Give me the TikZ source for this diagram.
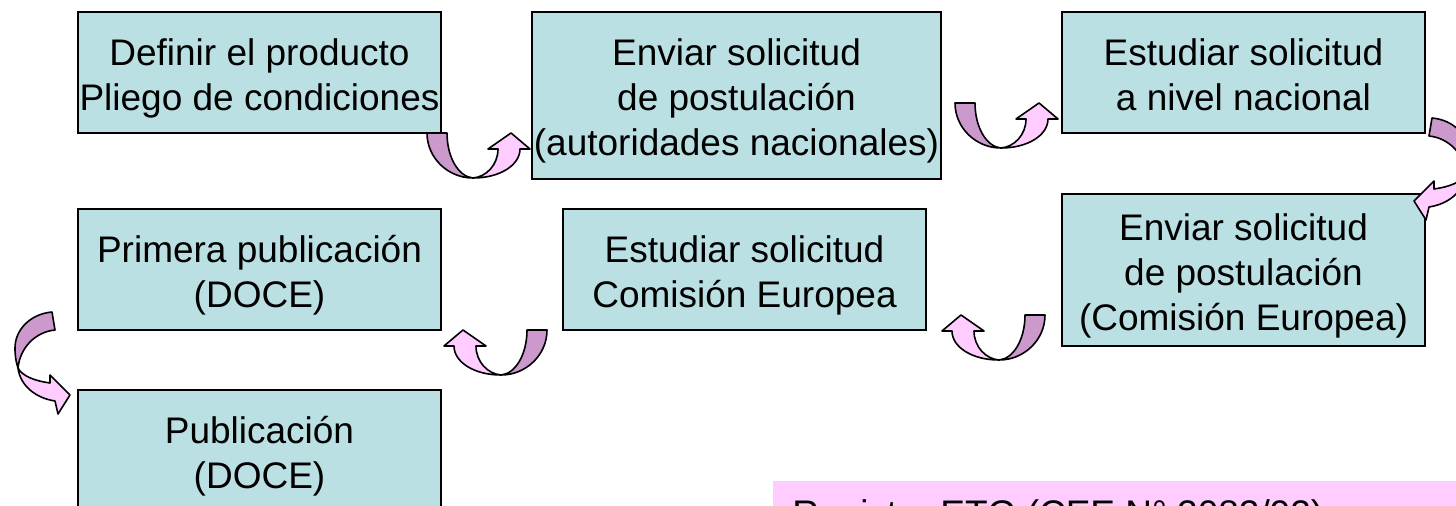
\documentclass[tikz,border=0pt]{standalone}
\usepackage{fontspec}
\setmainfont{Liberation Sans}
\definecolor{boxfill}{HTML}{BBE0E3}
\definecolor{pinkfill}{HTML}{FFCCFF}
\definecolor{darkarrow}{HTML}{CC99CC}
\newcommand{\tstrut}{\rule{0pt}{21.5pt}}
\newcommand{\bstrut}{\rule[-6pt]{0pt}{6pt}}
\tikzset{
  stepbox/.style={draw=black, fill=boxfill, line width=0.8pt, rectangle, inner sep=0pt,
    minimum width=181.5pt, minimum height=60.5pt, align=center,
    font=\fontsize{18.5pt}{22.5pt}\selectfont},
  darkband/.style={draw=black, fill=darkarrow, line width=0.8pt, line join=round},
  pinkband/.style={draw=black, fill=pinkfill, line width=0.8pt, line join=round},
}
\newcommand{\myUarrow}{%
  \filldraw[darkband] (7,13) .. controls (7,38) and (28,58) .. (53,58)
     .. controls (39,57) and (27,38) .. (27,13) -- cycle;
  \filldraw[pinkband] (53,58) .. controls (80,58) and (100,45) .. (100,29)
     -- (110,29) -- (91,13) -- (68,29) -- (78,29)
     .. controls (78,45) and (66,57) .. (53,58) -- cycle;
}
\newcommand{\myCarrow}{%
  \filldraw[darkband] (52,312) .. controls (30,314) and (15,330) .. (15,348)
     .. controls (15,356) and (16,362) .. (18,368)
     .. controls (20,348) and (35,332) .. (55,330) -- cycle;
  \filldraw[pinkband] (18,368) .. controls (20,385) and (35,398) .. (55,401)
     -- (58,414) -- (70,395) -- (50,375) -- (50,383)
     .. controls (35,381) and (22,376) .. (18,368) -- cycle;
}
\begin{document}
\begin{tikzpicture}[x=0.5pt, y=-0.5pt]
  \useasboundingbox (0,0) rectangle (1456,506);
  \clip (0,0) rectangle (1456,506);
  % boxes
  \node[stepbox] (b1) at (259.5,72.5) {\tstrut Definir el producto\\Pliego de condiciones\bstrut};
  \node[stepbox, minimum width=204.5pt, minimum height=83.5pt] (b2) at (736.5,95.5)
     {\tstrut Enviar solicitud\\de postulación\\(autoridades nacionales)\bstrut};
  \node[stepbox] (b3) at (1243.5,72.5) {\tstrut Estudiar solicitud\\a nivel nacional\bstrut};
  \node[stepbox, minimum height=76pt] (b4) at (1243.5,270)
     {\tstrut Enviar solicitud\\de postulación\\(Comisión Europea)\bstrut};
  \node[stepbox] (b5) at (744.5,269.5) {\tstrut Estudiar solicitud\\Comisión Europea\bstrut};
  \node[stepbox] (b6) at (259.5,269.5) {\tstrut Primera publicación\\(DOCE)\bstrut};
  \node[stepbox] (b7) at (259.5,450.5) {\tstrut Publicación\\(DOCE)\bstrut};
  % note box
  \fill[pinkfill] (773,481) rectangle (1470,560);
  \node[anchor=base west, inner sep=0pt, font=\fontsize{18.5pt}{22.5pt}\selectfont]
     (note) at (792,527) {Registro ETG (CEE N° 2082/92)};
  % curved arrows
  \begin{scope}[shift={(420,120)}] \myUarrow \end{scope}
  \begin{scope}[shift={(948,90)}] \myUarrow \end{scope}
  \begin{scope}[shift={(1052,302)}, xscale=-1] \myUarrow \end{scope}
  \begin{scope}[shift={(554,317)}, xscale=-1] \myUarrow \end{scope}
  \myCarrow
  \begin{scope}[shift={(1484,-194)}, xscale=-1] \myCarrow \end{scope}
\end{tikzpicture}
\end{document}
